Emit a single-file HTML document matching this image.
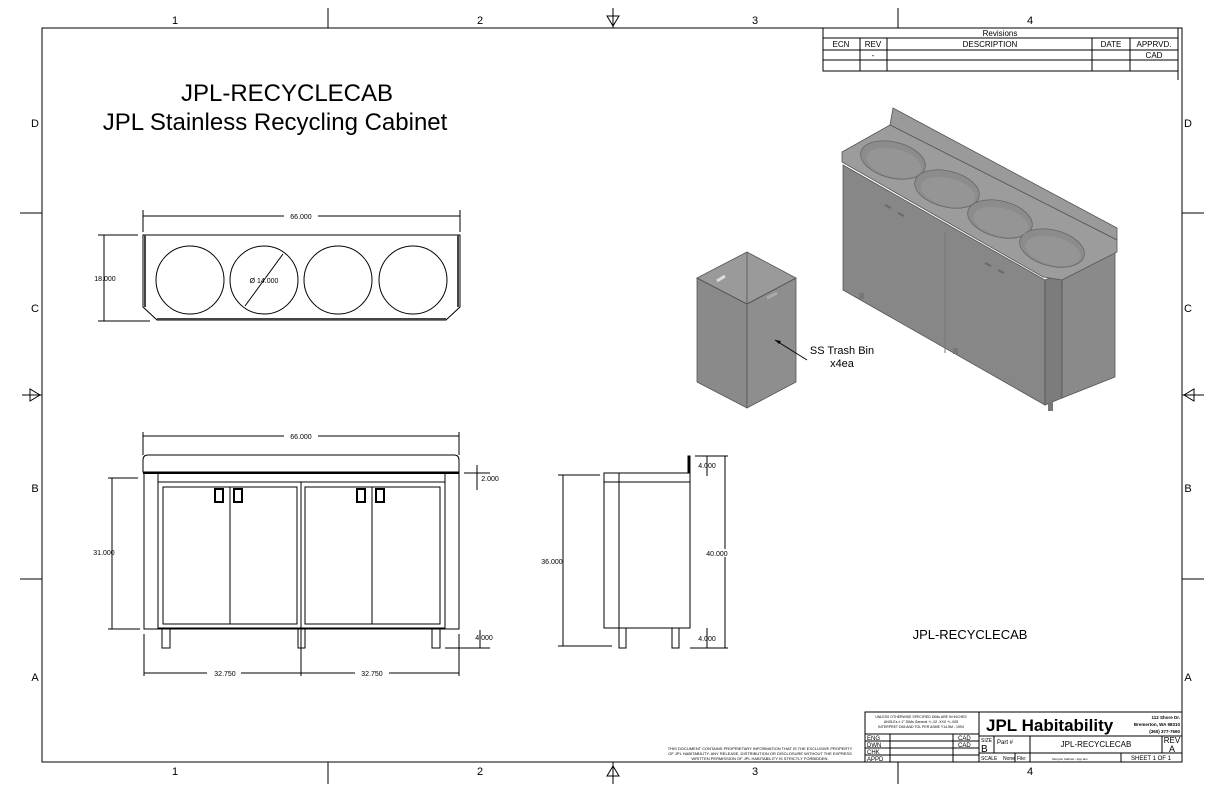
<!DOCTYPE html>
<html><head><meta charset="utf-8"><style>
html,body{margin:0;padding:0;background:#fff;}
svg{display:block;font-family:"Liberation Sans",sans-serif;}
</style></head><body>
<svg width="1224" height="792" viewBox="0 0 1224 792" xmlns="http://www.w3.org/2000/svg">
<rect width="1224" height="792" fill="#fff"/>
<rect x="42" y="28" width="1140" height="734" fill="none" stroke="#000" stroke-width="1"/>
<g font-size="11" text-anchor="middle" fill="#000">
<text x="175" y="24">1</text><text x="480" y="24">2</text><text x="755" y="24">3</text><text x="1030" y="24">4</text>
<text x="175" y="775">1</text><text x="480" y="775">2</text><text x="755" y="775">3</text><text x="1030" y="775">4</text>
<text x="35" y="127">D</text><text x="35" y="312">C</text><text x="35" y="492">B</text><text x="35" y="681">A</text>
<text x="1188" y="127">D</text><text x="1188" y="312">C</text><text x="1188" y="492">B</text><text x="1188" y="681">A</text>
</g>
<g stroke="#000" stroke-width="1" fill="none">
<line x1="328" y1="8" x2="328" y2="28"/><line x1="898" y1="8" x2="898" y2="28"/>
<line x1="328" y1="762" x2="328" y2="784"/><line x1="898" y1="762" x2="898" y2="784"/>
<line x1="20" y1="213" x2="42" y2="213"/><line x1="20" y1="579" x2="42" y2="579"/>
<line x1="1182" y1="213" x2="1204" y2="213"/><line x1="1182" y1="579" x2="1204" y2="579"/>
<line x1="613" y1="8" x2="613" y2="28"/><path d="M607 16 L619 16 L613 26 Z"/>
<line x1="613" y1="762" x2="613" y2="784"/><path d="M607 776 L619 776 L613 766 Z"/>
<line x1="22" y1="395" x2="42" y2="395"/><path d="M30 389 L30 401 L40 395 Z"/>
<line x1="1182" y1="395" x2="1204" y2="395"/><path d="M1194 389 L1194 401 L1184 395 Z"/>
</g>
<text x="287" y="101" font-size="24" text-anchor="middle">JPL-RECYCLECAB</text>
<text x="275" y="130" font-size="24" text-anchor="middle">JPL Stainless Recycling Cabinet</text>

<g stroke="#000" stroke-width="1" fill="none">
<rect x="823" y="28" width="355" height="43"/>
<line x1="823" y1="38" x2="1178" y2="38"/><line x1="823" y1="50" x2="1178" y2="50"/><line x1="823" y1="60" x2="1178" y2="60"/>
<line x1="860" y1="38" x2="860" y2="71"/><line x1="887" y1="38" x2="887" y2="71"/><line x1="1092" y1="38" x2="1092" y2="71"/><line x1="1130" y1="38" x2="1130" y2="71"/>
<line x1="1178" y1="71" x2="1178" y2="80"/>
</g>
<g font-size="8" text-anchor="middle">
<text x="1000" y="36">Revisions</text>
<text x="841" y="47">ECN</text><text x="873" y="47">REV</text><text x="990" y="47">DESCRIPTION</text><text x="1111" y="47">DATE</text><text x="1154" y="47">APPRVD.</text>
<text x="873" y="58">-</text><text x="1154" y="58">CAD</text>
</g>

<g stroke="#000" stroke-width="1" fill="none">
<line x1="143" y1="210" x2="143" y2="232"/><line x1="460" y1="210" x2="460" y2="232"/>
<line x1="143" y1="216" x2="460" y2="216"/>
<path d="M143 235 L460 235 L460 307 L446 320 L157 320 L143 307 Z"/>
<line x1="145" y1="235" x2="145" y2="307" stroke-width="2" stroke="#444"/>
<line x1="458" y1="235" x2="458" y2="307" stroke-width="2" stroke="#444"/>
<line x1="157" y1="319" x2="446" y2="319" stroke-width="2" stroke="#444"/>
<circle cx="190" cy="280" r="34"/><circle cx="264" cy="280" r="34"/><circle cx="338" cy="280" r="34"/><circle cx="413" cy="280" r="34"/>
<line x1="245" y1="306" x2="283" y2="254"/>
<line x1="98" y1="235" x2="138" y2="235"/><line x1="98" y1="321" x2="150" y2="321"/>
<line x1="104" y1="235" x2="104" y2="321"/>
</g>
<rect x="284" y="213" width="34" height="7" fill="#fff"/>
<text x="301" y="219" font-size="7" text-anchor="middle">66.000</text>
<text x="105" y="281" font-size="7" text-anchor="middle">18.000</text>
<text x="264" y="283" font-size="7" text-anchor="middle">Ø 14.000</text>

<g stroke="#000" stroke-width="1" fill="none">
<line x1="143" y1="432" x2="143" y2="455"/><line x1="459" y1="432" x2="459" y2="455"/>
<line x1="143" y1="436" x2="459" y2="436"/>
<path d="M143 472 L143 460 Q143 455 148 455 L454 455 Q459 455 459 460 L459 472 Z"/>
<line x1="143" y1="473" x2="459" y2="473" stroke-width="2"/>
<rect x="144" y="473" width="315" height="156"/>
<rect x="158" y="473" width="287" height="155"/>
<line x1="158" y1="482" x2="445" y2="482"/>
<rect x="163" y="487" width="134" height="137"/>
<rect x="305" y="487" width="135" height="137"/>
<line x1="230" y1="487" x2="230" y2="624"/><line x1="372" y1="487" x2="372" y2="624"/>
<line x1="301" y1="482" x2="301" y2="676"/>
<rect x="215" y="489" width="8" height="13" stroke-width="2"/><rect x="234" y="489" width="8" height="13" stroke-width="2"/>
<rect x="357" y="489" width="8" height="13" stroke-width="2"/><rect x="376" y="489" width="8" height="13" stroke-width="2"/>
<rect x="162" y="629" width="8" height="19"/><rect x="298" y="629" width="7" height="19"/><rect x="432" y="629" width="8" height="19"/>
<line x1="108" y1="478" x2="138" y2="478"/><line x1="108" y1="629" x2="140" y2="629"/>
<line x1="112" y1="478" x2="112" y2="629"/>
<line x1="464" y1="473" x2="490" y2="473"/><line x1="477" y1="465" x2="477" y2="490"/>
<line x1="445" y1="648" x2="490" y2="648"/><line x1="480" y1="630" x2="480" y2="648"/>
<line x1="144" y1="634" x2="144" y2="676"/><line x1="459" y1="634" x2="459" y2="676"/>
<line x1="144" y1="673" x2="459" y2="673"/>
</g>
<rect x="284" y="433" width="34" height="7" fill="#fff"/>
<text x="301" y="439" font-size="7" text-anchor="middle">66.000</text>
<text x="104" y="555" font-size="7" text-anchor="middle">31.000</text>
<text x="490" y="481" font-size="7" text-anchor="middle">2.000</text>
<text x="484" y="640" font-size="7" text-anchor="middle">4.000</text>
<rect x="207" y="670" width="34" height="7" fill="#fff"/><text x="225" y="676" font-size="7" text-anchor="middle">32.750</text>
<rect x="355" y="670" width="34" height="7" fill="#fff"/><text x="372" y="676" font-size="7" text-anchor="middle">32.750</text>

<g stroke="#000" stroke-width="1" fill="none">
<rect x="604" y="473" width="86" height="9"/>
<rect x="604" y="482" width="86" height="146"/>
<line x1="619" y1="473" x2="619" y2="628"/>
<rect x="688" y="456" width="2" height="17" fill="#000"/>
<rect x="619" y="628" width="7" height="20"/><rect x="672" y="628" width="7" height="20"/>
<line x1="558" y1="475" x2="600" y2="475"/><line x1="558" y1="646" x2="612" y2="646"/>
<line x1="563" y1="475" x2="563" y2="646"/>
<line x1="695" y1="456" x2="728" y2="456"/><line x1="690" y1="648" x2="728" y2="648"/>
<line x1="725" y1="456" x2="725" y2="648"/>
<line x1="707" y1="456" x2="707" y2="476"/><line x1="707" y1="628" x2="707" y2="648"/>
</g>
<text x="552" y="564" font-size="7" text-anchor="middle">36.000</text>
<rect x="705" y="549" width="26" height="8" fill="#fff"/><text x="717" y="556" font-size="7" text-anchor="middle">40.000</text>
<text x="707" y="468" font-size="7" text-anchor="middle">4.000</text>
<text x="707" y="641" font-size="7" text-anchor="middle">4.000</text>

<g stroke="#555" stroke-width="0.8">
<path d="M697 278 L747 304 L747 408 L697 382 Z" fill="#8a8a8a"/>
<path d="M747 304 L796 278 L796 382 L747 408 Z" fill="#8e8e8e"/>
<path d="M697 278 L747 252 L796 278 L747 304 Z" fill="#9a9a9a"/>
<path d="M747 252 L747 304 M697 278 L747 304 L796 278" fill="none"/>
</g>
<path d="M717 281 l8 -5" stroke="#ddd" stroke-width="3"/>
<path d="M767 298 l10 -5" stroke="#aaa" stroke-width="3"/>
<line x1="775" y1="340" x2="807" y2="360" stroke="#000"/>
<path d="M775 340 l6 1 l-2 3 z" fill="#000"/>
<text x="842" y="354" font-size="11" text-anchor="middle">SS Trash Bin</text>
<text x="842" y="367" font-size="11" text-anchor="middle">x4ea</text>

<g stroke="#555" stroke-width="0.8">
<path d="M890 125 L893 108 L1117 228 L1117 240 Z" fill="#9a9a9a"/>
<path d="M843 165 L1045 280 L1045 405 L843 290 Z" fill="#878787"/>
<path d="M1045 280 L1062 272 L1062 398 L1045 405 Z" fill="#7c7c7c"/>
<path d="M1062 272 L1115 252 L1115 377 L1062 398 Z" fill="#8a8a8a"/>
<path d="M842 152 L890 125 L1117 240 L1117 252 L1062 280 L1043 277 L842 162 Z" fill="#9c9c9c"/>
</g>
<g fill="#8c8c8c" stroke="#666" stroke-width="0.8">
<ellipse cx="893" cy="160" rx="33" ry="18" transform="rotate(14 893 160)"/>
<ellipse cx="947" cy="189" rx="33" ry="18" transform="rotate(14 947 189)"/>
<ellipse cx="1000" cy="219" rx="33" ry="18" transform="rotate(14 1000 219)"/>
<ellipse cx="1052" cy="248" rx="33" ry="18" transform="rotate(14 1052 248)"/>
</g>
<g fill="#959595">
<ellipse cx="894" cy="163" rx="28" ry="14" transform="rotate(14 894 163)"/>
<ellipse cx="948" cy="192" rx="28" ry="14" transform="rotate(14 948 192)"/>
<ellipse cx="1001" cy="222" rx="28" ry="14" transform="rotate(14 1001 222)"/>
<ellipse cx="1053" cy="251" rx="28" ry="14" transform="rotate(14 1053 251)"/>
</g>
<line x1="945" y1="232" x2="945" y2="353" stroke="#777"/>
<g stroke="#6a6a6a" stroke-width="2">
<line x1="885" y1="205" x2="891" y2="208"/><line x1="898" y1="213" x2="904" y2="216"/>
<line x1="985" y1="263" x2="991" y2="266"/><line x1="998" y1="270" x2="1004" y2="273"/>
</g>
<g fill="#777"><rect x="859" y="293" width="5" height="6"/><rect x="953" y="348" width="5" height="6"/><rect x="1048" y="402" width="5" height="9"/></g>

<text x="970" y="639" font-size="13" text-anchor="middle">JPL-RECYCLECAB</text>

<g font-size="4" text-anchor="middle">
<text x="760" y="750">THIS DOCUMENT CONTAINS PROPRIETARY INFORMATION THAT IS THE EXCLUSIVE PROPERTY</text>
<text x="760" y="755">OF JPL HABITABILITY. ANY RELEASE, DISTRIBUTION OR DISCLOSURE WITHOUT THE EXPRESS</text>
<text x="760" y="760">WRITTEN PERMISSION OF JPL HABITABILITY IS STRICTLY FORBIDDEN.</text>
</g>
<g stroke="#000" stroke-width="1" fill="none">
<rect x="865" y="712" width="317" height="50"/>
<line x1="865" y1="734" x2="979" y2="734"/><line x1="865" y1="741" x2="979" y2="741"/><line x1="865" y1="748" x2="979" y2="748"/><line x1="865" y1="755" x2="979" y2="755"/>
<line x1="890" y1="734" x2="890" y2="762"/><line x1="953" y1="734" x2="953" y2="762"/>
<line x1="979" y1="712" x2="979" y2="762"/>
<line x1="979" y1="736" x2="1182" y2="736"/><line x1="979" y1="753" x2="1182" y2="753"/>
<line x1="994" y1="736" x2="994" y2="753"/><line x1="1030" y1="736" x2="1030" y2="762"/><line x1="1162" y1="736" x2="1162" y2="753"/>
<line x1="1121" y1="753" x2="1121" y2="762"/><line x1="1015" y1="753" x2="1015" y2="762"/>
</g>
<g font-size="3.5" text-anchor="middle">
<text x="921" y="718">UNLESS OTHERWISE SPECIFIED DIMs ARE IN INCHES</text>
<text x="921" y="723">ANGLEs ± 1°  DIMs General +/-.02  .XXX +/-.005</text>
<text x="921" y="728">INTERPRET DIM AND TOL PER ASME Y14.5M - 1994</text>
</g>
<g font-size="6">
<text x="867" y="740">ENG</text><text x="867" y="747">DWN</text><text x="867" y="754">CHK</text><text x="867" y="761">APPD</text>
<text x="958" y="740">CAD</text><text x="958" y="747">CAD</text>
</g>
<text x="986" y="731" font-size="17" font-weight="bold">JPL Habitability</text>
<g font-size="4.5" font-weight="bold" text-anchor="end">
<text x="1180" y="719">112 Shore Dr.</text><text x="1180" y="726">Bremerton, WA 98310</text><text x="1180" y="733">(360) 377-7660</text>
</g>
<text x="981" y="742" font-size="5">SIZE</text><text x="981" y="752" font-size="10">B</text>
<text x="997" y="744" font-size="6">Part #</text>
<text x="1096" y="747" font-size="8" text-anchor="middle">JPL-RECYCLECAB</text>
<text x="1172" y="743" font-size="8" text-anchor="middle">REV</text><text x="1172" y="752" font-size="9" text-anchor="middle">A</text>
<text x="981" y="760" font-size="5">SCALE</text><text x="1003" y="760" font-size="5">None</text>
<text x="1017" y="760" font-size="5">File:</text><text x="1070" y="760" font-size="3" text-anchor="middle">Recycle Cabinet - App.iam</text>
<text x="1151" y="760" font-size="6" text-anchor="middle">SHEET 1 OF 1</text>
</svg>
</body></html>
